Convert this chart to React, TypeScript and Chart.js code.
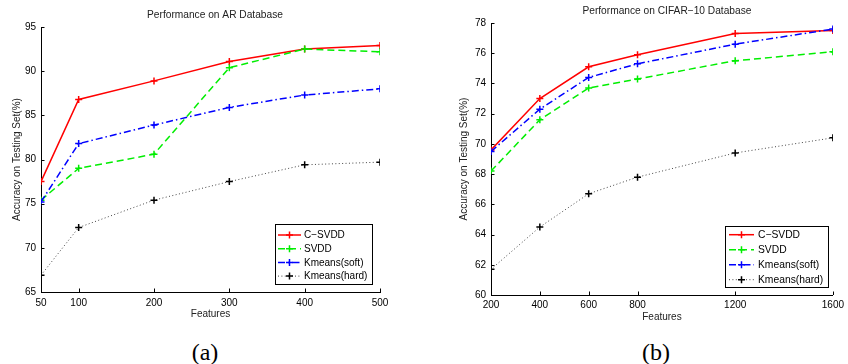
import React, { useEffect, useRef } from "react";
import { Chart, registerables } from "chart.js";

Chart.register(...registerables);

// ---------- Data: (a) AR Database ----------
const arFeatures = [50, 100, 200, 300, 400, 500];
const arCSVDD = [77.5, 86.8, 88.9, 91.1, 92.5, 92.9];
const arSVDD = [75.4, 79.0, 80.6, 90.4, 92.5, 92.2];
const arKmeansSoft = [75.2, 81.8, 83.9, 85.9, 87.3, 88.0];
const arKmeansHard = [66.9, 72.3, 75.4, 77.5, 79.4, 79.7];
const arXTicks = [50, 100, 200, 300, 400, 500];
const arYTicks = [65, 70, 75, 80, 85, 90, 95];

// ---------- Data: (b) CIFAR-10 Database ----------
const cfFeatures = [200, 400, 600, 800, 1200, 1600];
const cfCSVDD = [69.6, 73.0, 75.1, 75.9, 77.3, 77.5];
const cfSVDD = [68.2, 71.6, 73.7, 74.3, 75.5, 76.1];
const cfKmeansSoft = [69.5, 72.3, 74.4, 75.3, 76.6, 77.6];
const cfKmeansHard = [61.7, 64.5, 66.7, 67.8, 69.4, 70.4];
const cfXTicks = [200, 400, 600, 800, 1200, 1600];
const cfYTicks = [60, 62, 64, 66, 68, 70, 72, 74, 76, 78];

const seriesNames = ["C\u2212SVDD", "SVDD", "Kmeans(soft)", "Kmeans(hard)"];

const FONT = "'Liberation Sans', Arial, Helvetica, sans-serif";

const styles = [
  { color: "#ff0000", dash: [] as number[], width: 1.5 },
  { color: "#00ee00", dash: [7, 4], width: 1.5 },
  { color: "#0000ff", dash: [7, 3, 1.5, 3], width: 1.5 },
  { color: "#444444", dash: [1, 2.4], width: 1 },
];

const matlabPlugin = {
  id: "matlab",
  afterDraw(chart: any, _args: any, opts: any) {
    const ctx = chart.ctx as CanvasRenderingContext2D;
    const { left, right, bottom } = chart.chartArea;
    const xs = chart.scales.x;
    const ys = chart.scales.y;
    ctx.save();
    ctx.strokeStyle = "#000";
    ctx.lineWidth = 1;
    ctx.setLineDash([]);
    ctx.beginPath();
    xs.ticks.forEach((t: any) => {
      const px = Math.round(xs.getPixelForValue(t.value)) + 0.5;
      ctx.moveTo(px, bottom);
      ctx.lineTo(px, bottom - 3.5);
    });
    ys.ticks.forEach((t: any) => {
      const py = Math.round(ys.getPixelForValue(t.value)) + 0.5;
      ctx.moveTo(left, py);
      ctx.lineTo(left + 3.5, py);
    });
    ctx.stroke();

    // title, centred over the plot area
    const T = opts.title;
    if (T) {
      ctx.fillStyle = "#222";
      ctx.font = `${T.size}px ${FONT}`;
      ctx.textAlign = "center";
      ctx.textBaseline = "middle";
      ctx.fillText(T.text, (left + right) / 2 + T.dx, T.y);
    }

    const L = opts.legend;
    if (L) {
      ctx.fillStyle = "#fff";
      ctx.fillRect(L.x, L.y, L.w, L.h);
      ctx.strokeStyle = "#000";
      ctx.lineWidth = 1;
      ctx.strokeRect(L.x + 0.5, L.y + 0.5, L.w, L.h);
      chart.data.datasets.forEach((ds: any, i: number) => {
        const y = L.row0 + i * L.rowH;
        ctx.save();
        ctx.strokeStyle = ds.borderColor;
        ctx.lineWidth = ds.borderWidth;
        ctx.setLineDash(ds.borderDash || []);
        ctx.beginPath();
        ctx.moveTo(L.s0, y);
        ctx.lineTo(L.s1, y);
        ctx.stroke();
        ctx.setLineDash([]);
        ctx.strokeStyle = ds.pointBorderColor;
        ctx.lineWidth = 1.5;
        const cx = (L.s0 + L.s1) / 2;
        const r = 3.5;
        ctx.beginPath();
        ctx.moveTo(cx - r, y);
        ctx.lineTo(cx + r, y);
        ctx.moveTo(cx, y - r);
        ctx.lineTo(cx, y + r);
        ctx.stroke();
        ctx.restore();
        ctx.fillStyle = "#000";
        ctx.font = `${L.fontSize}px ${FONT}`;
        ctx.textBaseline = "middle";
        ctx.textAlign = "left";
        ctx.fillText(ds.label, L.tx, y + 0.5);
      });
    }
    ctx.restore();
  },
};

function makeConfig(p: any) {
  const datasets = p.series.map((vals: number[], i: number) => ({
    label: seriesNames[i],
    data: vals.map((v, j) => ({ x: p.features[j], y: v })),
    borderColor: styles[i].color,
    borderWidth: styles[i].width,
    borderDash: styles[i].dash,
    pointStyle: "cross",
    pointRadius: 3.5,
    pointBorderWidth: 1.5,
    pointBorderColor: i === 3 ? "#000" : styles[i].color,
    pointBackgroundColor: styles[i].color,
    fill: false,
    tension: 0,
    order: 4 - i,
  }));
  return {
    type: "line",
    data: { datasets },
    plugins: [matlabPlugin],
    options: {
      responsive: false,
      animation: false,
      devicePixelRatio: 1,
      layout: { padding: p.padding },
      plugins: {
        legend: { display: false },
        tooltip: { enabled: false },
        title: { display: false },
        matlab: { legend: p.legend, title: p.titleOpts },
      },
      scales: {
        x: {
          type: "linear",
          min: p.xMin,
          max: p.xMax,
          afterBuildTicks: (s: any) => {
            s.ticks = p.xTicks.map((v: number) => ({ value: v }));
          },
          afterFit: (s: any) => {
            s.height = p.xHeight;
          },
          grid: { display: false, drawTicks: false },
          border: { display: true, color: "#000", width: 1 },
          ticks: {
            color: "#000",
            font: { family: FONT, size: 10 },
            padding: p.xTickPad,
            maxRotation: 0,
            autoSkip: false,
            callback: (v: any) => String(v),
          },
          title: {
            display: true,
            text: "Features",
            color: "#222",
            font: { family: FONT, size: 10, lineHeight: 1.2 },
            padding: { top: 0, bottom: p.xTitlePad },
          },
        },
        y: {
          type: "linear",
          min: p.yMin,
          max: p.yMax,
          afterBuildTicks: (s: any) => {
            s.ticks = p.yTicks.map((v: number) => ({ value: v }));
          },
          afterFit: (s: any) => {
            s.width = p.yWidth;
          },
          grid: { display: false, drawTicks: false },
          border: { display: true, color: "#000", width: 1 },
          ticks: {
            color: "#000",
            font: { family: FONT, size: 10 },
            padding: 5,
            autoSkip: false,
            callback: (v: any) => String(v),
          },
          title: {
            display: true,
            text: "Accuracy on Testing Set(%)",
            color: "#222",
            font: { family: FONT, size: 10, lineHeight: 1.2 },
            padding: { top: p.yTitlePad, bottom: 0 },
          },
        },
      },
    },
  };
}

const configA = {
  titleOpts: { text: "Performance on AR Database", dx: 4.5, y: 15, size: 10.2 },
  features: arFeatures,
  series: [arCSVDD, arSVDD, arKmeansSoft, arKmeansHard],
  xMin: 50,
  xMax: 500,
  xTicks: arXTicks,
  yMin: 65,
  yMax: 95,
  yTicks: arYTicks,
  padding: { left: 0, right: 44, top: 27, bottom: 0 },
  xHeight: 38,
  xTickPad: 5,
  xTitlePad: 10,
  yWidth: 41,
  yTitlePad: 11,
  legend: { x: 275, y: 224, w: 97, h: 60, row0: 235, rowH: 13.7, s0: 278, s1: 301, tx: 304, fontSize: 10 },
};

const configB = {
  titleOpts: { text: "Performance on CIFAR\u221210 Database", dx: 5, y: 11, size: 10.2 },
  features: cfFeatures,
  series: [cfCSVDD, cfSVDD, cfKmeansSoft, cfKmeansHard],
  xMin: 200,
  xMax: 1600,
  xTicks: cfXTicks,
  yMin: 60,
  yMax: 78,
  yTicks: cfYTicks,
  padding: { left: 0, right: 11, top: 23, bottom: 0 },
  xHeight: 35,
  xTickPad: 4,
  xTitlePad: 7,
  yWidth: 67,
  yTitlePad: 34,
  legend: { x: 301, y: 226, w: 103, h: 61, row0: 234.7, rowH: 15, s0: 305, s1: 330, tx: 334, fontSize: 10.3 },
};

function ChartCanvas({ cfg, left }: { cfg: any; left: number }) {
  const ref = useRef<HTMLCanvasElement>(null);
  useEffect(() => {
    if (!ref.current) return;
    const chart = new Chart(ref.current, makeConfig(cfg) as any);
    return () => chart.destroy();
  }, [cfg]);
  return (
    <canvas
      ref={ref}
      width={424}
      height={330}
      style={{ position: "absolute", left, top: 0, width: 424, height: 330 }}
    />
  );
}

export default function App() {
  const captionStyle: React.CSSProperties = {
    position: "absolute",
    top: 338,
    width: 60,
    textAlign: "center",
    fontFamily: "'Liberation Serif', 'DejaVu Serif', serif",
    fontSize: 24,
    lineHeight: "28px",
    color: "#000",
  };
  return (
    <div
      style={{
        position: "fixed",
        left: 0,
        top: 0,
        width: 848,
        height: 364,
        background: "#fff",
        overflow: "hidden",
      }}
    >
      <ChartCanvas cfg={configA} left={0} />
      <ChartCanvas cfg={configB} left={424} />
      <div style={{ ...captionStyle, left: 205 - 30 }}>(a)</div>
      <div style={{ ...captionStyle, left: 656 - 30 }}>(b)</div>
    </div>
  );
}
